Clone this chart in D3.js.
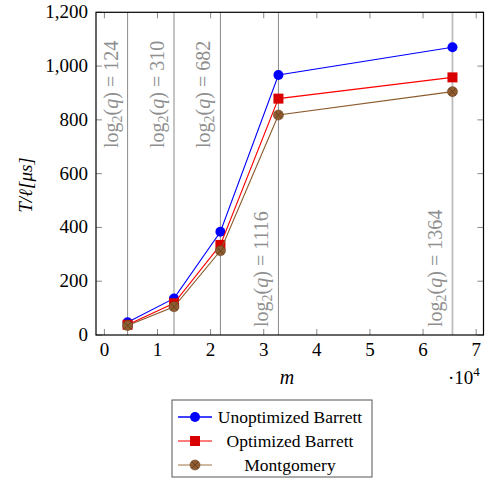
<html>
  <head>
    <style>
      body { margin: 0; background: #fff; }
      text { font-family: "Liberation Serif", "DejaVu Serif", serif; }
    </style>
  </head>
  <body>
    <svg width="485" height="485"></svg>
    <script src="https://d3js.org/d3.v7.min.js"></script>
    <script>
      // data
      var mValues     = [4369, 13107, 21845, 32768, 65536],
          logQ        = [124, 310, 682, 1116, 1364],
          unoptimized = [47, 136, 384, 967, 1070],
          optimized   = [38, 118, 335, 879, 958],
          montgomery  = [35, 105, 313, 818, 905],
          xTicks      = [0, 10000, 20000, 30000, 40000, 50000, 60000, 70000],
          yTicks      = [0, 200, 400, 600, 800, 1000, 1200];

      var series = [
        { name: "Unoptimized Barrett", values: unoptimized, color: "#0000ff", legendLine: "#0000ff", mark: "circle", fill: "#0000ff" },
        { name: "Optimized Barrett",   values: optimized,   color: "#ff0000", legendLine: "#ff5050", mark: "square", fill: "#d80000" },
        { name: "Montgomery",          values: montgomery,  color: "#8b5a2b", legendLine: "#c0a283", mark: "otimes", fill: "#8e5c30" }
      ];

      var svg = d3.select("svg"),
          pLeft = 96, pRight = 483.5, pTop = 12.3, pBottom = 335;

      var x = d3.scaleLinear().domain([-1580, 71380]).range([pLeft, pRight]),
          y = d3.scaleLinear().domain([0, 1200]).range([pBottom, pTop]);

      var fmt = d3.format(",");

      // vertical reference lines
      svg.append("g").selectAll("line")
          .data(mValues)
          .enter().append("line")
          .attr("x1", function(d) { return x(d); })
          .attr("x2", function(d) { return x(d); })
          .attr("y1", pTop).attr("y2", pBottom)
          .attr("stroke", function(d, i) { return i == 4 ? "#bdbdbd" : "#8a8a8a"; })
          .attr("stroke-width", function(d, i) { return i == 4 ? 1.8 : 1; });

      // labels log2(q) = ...
      var lab = svg.append("g").selectAll("text")
          .data(mValues)
          .enter().append("text")
          .attr("transform", function(d, i) {
            var yy = i < 3 ? 148 : 327;
            return "translate(" + (x(d) - 10) + "," + yy + ") rotate(-90)";
          })
          .attr("fill", "#8f8f8f")
          .attr("font-size", 20);
      lab.append("tspan").text("log");
      lab.append("tspan").attr("font-size", 14).attr("dy", 4).text("2");
      lab.append("tspan").attr("dy", -4).text("(");
      lab.append("tspan").attr("font-style", "italic").text("q");
      lab.append("tspan").text(function(d, i) { return ") = " + logQ[i]; });

      // ticks on all four sides
      var tk = svg.append("g").attr("stroke", "#888").attr("stroke-width", 1);
      xTicks.forEach(function(t) {
        tk.append("line").attr("x1", x(t)).attr("x2", x(t)).attr("y1", pBottom).attr("y2", pBottom - 6);
        tk.append("line").attr("x1", x(t)).attr("x2", x(t)).attr("y1", pTop).attr("y2", pTop + 6);
      });
      yTicks.forEach(function(t) {
        tk.append("line").attr("x1", pLeft).attr("x2", pLeft + 6).attr("y1", y(t)).attr("y2", y(t));
        tk.append("line").attr("x1", pRight).attr("x2", pRight - 6).attr("y1", y(t)).attr("y2", y(t));
      });

      // frame
      svg.append("rect")
          .attr("x", pLeft).attr("y", pTop)
          .attr("width", pRight - pLeft).attr("height", pBottom - pTop)
          .attr("fill", "none").attr("stroke", "#000").attr("stroke-width", 1.2);

      // tick labels
      svg.append("g").selectAll("text")
          .data(xTicks)
          .enter().append("text")
          .attr("x", function(d) { return x(d); })
          .attr("y", 356)
          .attr("text-anchor", "middle")
          .attr("font-size", 19)
          .text(function(d) { return d / 10000; });

      svg.append("g").selectAll("text")
          .data(yTicks)
          .enter().append("text")
          .attr("x", 88)
          .attr("y", function(d) { return y(d) + 6; })
          .attr("text-anchor", "end")
          .attr("font-size", 19)
          .text(function(d) { return fmt(d); });

      // axis labels
      svg.append("text")
          .attr("x", 287).attr("y", 384)
          .attr("text-anchor", "middle")
          .attr("font-size", 20).attr("font-style", "italic")
          .text("m");

      var sc = svg.append("text")
          .attr("x", 448).attr("y", 384)
          .attr("font-size", 19);
      sc.append("tspan").text("\u00b710");
      sc.append("tspan").attr("font-size", 13).attr("dy", -8).text("4");

      svg.append("text")
          .attr("transform", "translate(32,185) rotate(-90)")
          .attr("text-anchor", "middle")
          .attr("font-size", 19).attr("font-style", "italic")
          .text("T/\u2113[\u03bcs]");

      // lines and marks
      var line = d3.line()
          .x(function(d, i) { return x(mValues[i]); })
          .y(function(d) { return y(d); });

      function drawMark(g, type, fill, cx, cy) {
        if (type == "circle") {
          g.append("circle").attr("cx", cx).attr("cy", cy).attr("r", 5).attr("fill", fill);
        } else if (type == "square") {
          g.append("rect").attr("x", cx - 5).attr("y", cy - 5).attr("width", 10).attr("height", 10).attr("fill", fill);
        } else {
          g.append("circle").attr("cx", cx).attr("cy", cy).attr("r", 5).attr("fill", fill)
              .attr("stroke", "#6b4322").attr("stroke-width", 0.6);
          var d = 3.4;
          g.append("path")
              .attr("d", "M" + (cx - d) + "," + (cy - d) + "L" + (cx + d) + "," + (cy + d) +
                         "M" + (cx - d) + "," + (cy + d) + "L" + (cx + d) + "," + (cy - d))
              .attr("stroke", "#5a3818").attr("stroke-width", 0.7);
        }
      }

      series.forEach(function(s) {
        svg.append("path")
            .attr("d", line(s.values))
            .attr("fill", "none")
            .attr("stroke", s.color)
            .attr("stroke-width", 1.1);
        var g = svg.append("g");
        s.values.forEach(function(v, i) { drawMark(g, s.mark, s.fill, x(mValues[i]), y(v)); });
      });

      // legend
      var lg = svg.append("g");
      lg.append("rect")
          .attr("x", 172).attr("y", 400)
          .attr("width", 200).attr("height", 77)
          .attr("fill", "#fff").attr("stroke", "#555").attr("stroke-width", 1);
      series.forEach(function(s, i) {
        var yy = 417 + i * 24;
        lg.append("line").attr("x1", 178).attr("x2", 212).attr("y1", yy).attr("y2", yy)
            .attr("stroke", s.legendLine).attr("stroke-width", 1.4);
        drawMark(lg, s.mark, s.fill, 195, yy);
        lg.append("text")
            .attr("x", 290).attr("y", yy + 6)
            .attr("text-anchor", "middle")
            .attr("font-size", 17.5)
            .text(s.name);
      });
    </script>
  </body>
</html>
